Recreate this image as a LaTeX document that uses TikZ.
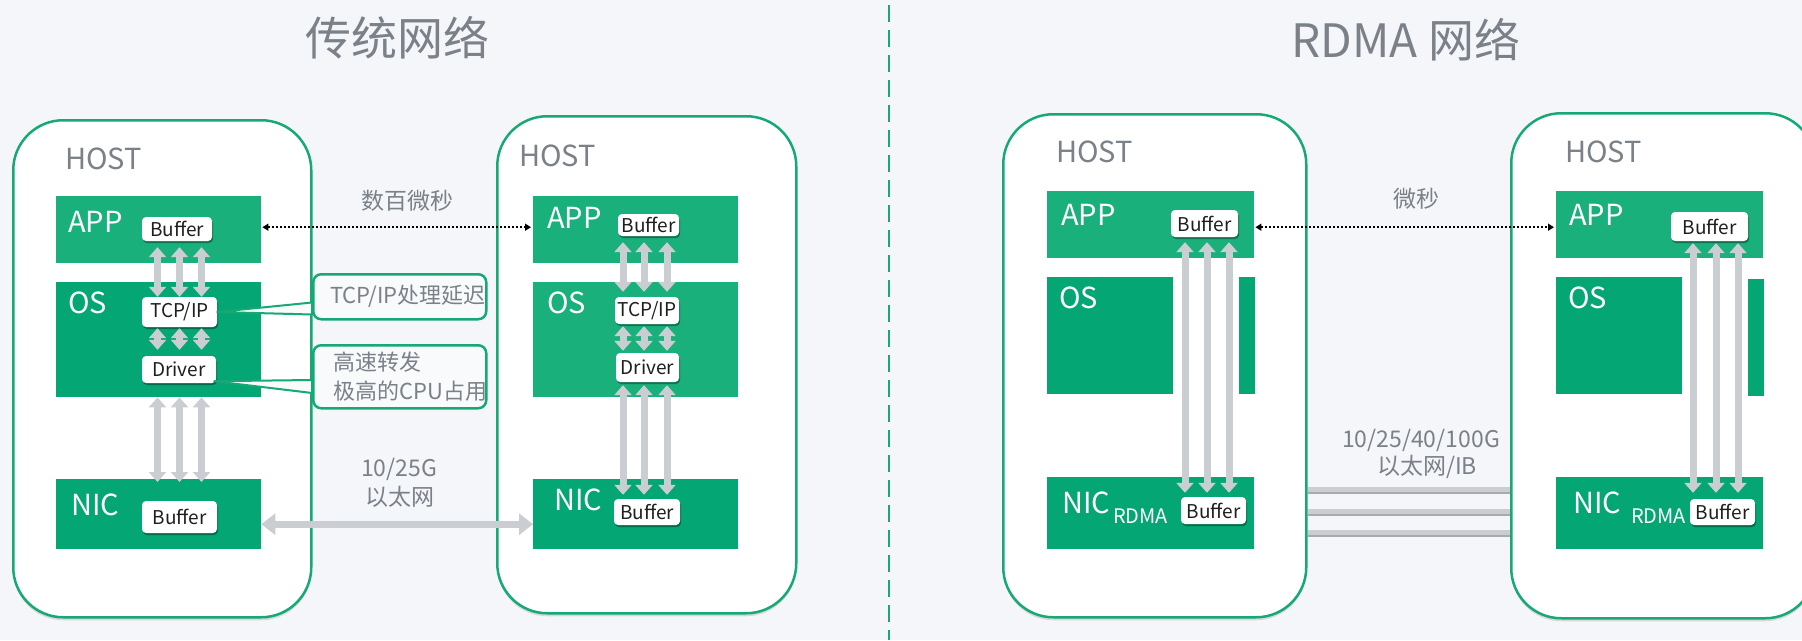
\documentclass[tikz,border=0pt]{standalone}
\usepackage{fontspec}
\setmainfont{Noto Sans CJK SC}
\usetikzlibrary{arrows.meta,calc,shadows}
\definecolor{hostgreen}{HTML}{16A976}
\definecolor{appgreen}{HTML}{1AB07C}
\definecolor{osgreen}{HTML}{04A673}
\definecolor{arrowgray}{HTML}{CACDD1}
\definecolor{bardark}{HTML}{A7ABB0}
\definecolor{textgray}{HTML}{7B8189}
\definecolor{bgcol}{HTML}{F4F6F9}
\definecolor{cofill}{HTML}{F8FAFB}
\begin{document}
\begin{tikzpicture}[x=1pt,y=-1pt,
  hostbox/.style={draw=hostgreen,line width=2.5pt,fill=white,rounded corners=50pt,anchor=north west,inner sep=0pt,
    drop shadow={shadow xshift=0pt,shadow yshift=-3pt,opacity=0.12,fill=black}},
  layerA/.style={fill=appgreen,anchor=north west,inner sep=0pt},
  layerB/.style={fill=osgreen,anchor=north west,inner sep=0pt},
  lbl/.style={text=white,font=\fontsize{29}{30}\selectfont,anchor=base west,inner sep=0pt},
  sublbl/.style={text=white,font=\fontsize{20}{20}\selectfont,anchor=base west,inner sep=0pt},
  hostlbl/.style={text=textgray,font=\fontsize{29}{30}\selectfont,anchor=base west,inner sep=0pt},
  chip/.style={fill=white,rounded corners=4pt,inner sep=0pt,font=\fontsize{19}{20}\selectfont,text=black!88,
    drop shadow={shadow xshift=1pt,shadow yshift=-2pt,opacity=0.35,fill=black}},
  varrow/.style={draw=arrowgray,line width=7pt,{Triangle[width=17pt,length=10pt]}-{Triangle[width=17pt,length=10pt]}},
  harrow/.style={draw=arrowgray,line width=7pt,{Triangle[width=21pt,length=14pt]}-{Triangle[width=21pt,length=14pt]}},
  dotarrow/.style={draw=black,line width=2pt,dash pattern=on 2pt off 2pt,{Triangle[width=7pt,length=6pt]}-{Triangle[width=7pt,length=6pt]}},
  bar/.style={draw=arrowgray,line width=7pt},
  barshade/.style={draw=bardark,line width=1.6pt},
  callout/.style={draw=hostgreen,line width=2.5pt,fill=cofill,rounded corners=8pt,anchor=north west,inner sep=0pt},
  wedge/.style={draw=hostgreen,line width=2pt,fill=cofill,line join=round},
  cotext/.style={text=textgray,font=\fontsize{22}{24}\selectfont,anchor=west,inner sep=0pt},
  midlbl/.style={text=textgray,font=\fontsize{23}{24}\selectfont,inner sep=0pt},
  title/.style={text=textgray,font=\fontsize{46}{48}\selectfont,inner sep=0pt},
  divider/.style={draw=hostgreen,line width=2pt,dash pattern=on 17pt off 8pt}
]
\useasboundingbox (0,0) rectangle (1802,640);
\fill[bgcol] (0,0) rectangle (1802,640);
\clip (0,0) rectangle (1802,640);

% titles and divider
\node[title] (t1) at (397,38) {传统网络};
\node[title] (t2) at (1406,40) {RDMA 网络};
\coordinate (dtop) at (889,5);
\coordinate (dbot) at (889,640);
\draw[divider] (dtop) -- (dbot);

% hosts
\node[hostbox,minimum width=298,minimum height=497] (host1) at (12,119) {};
\node[hostbox,minimum width=299,minimum height=497] (host2) at (496,115) {};
\node[hostbox,minimum width=303,minimum height=503] (host3) at (1002,113) {};
\node[hostbox,minimum width=304,minimum height=505] (host4) at (1510,112) {};

\node[hostlbl] (h1) at (65,169) {HOST};
\node[hostlbl] (h2) at (519,166) {HOST};
\node[hostlbl] (h3) at (1056,162) {HOST};
\node[hostlbl] (h4) at (1565,162) {HOST};

% layers traditional
\node[layerA,minimum width=205,minimum height=67] (app1) at (56,196) {};
\node[layerB,minimum width=205,minimum height=115] (os1) at (56,282) {};
\node[layerB,minimum width=205,minimum height=70] (nic1) at (56,479) {};
\node[layerA,minimum width=205,minimum height=67] (app2) at (533,196) {};
\node[layerA,minimum width=205,minimum height=115] (os2) at (533,282) {};
\node[layerB,minimum width=205,minimum height=70] (nic2) at (533,479) {};
% layers RDMA
\node[layerA,minimum width=207,minimum height=67] (app3) at (1047,191) {};
\node[layerB,minimum width=126,minimum height=117] (os3a) at (1047,277) {};
\node[layerB,minimum width=16,minimum height=117] (os3b) at (1239,277) {};
\node[layerB,minimum width=207,minimum height=72] (nic3) at (1047,477) {};
\node[layerA,minimum width=207,minimum height=67] (app4) at (1556,191) {};
\node[layerB,minimum width=126,minimum height=117] (os4a) at (1556,277) {};
\node[layerB,minimum width=16,minimum height=117] (os4b) at (1748,279) {};
\node[layerB,minimum width=207,minimum height=72] (nic4) at (1556,477) {};

% layer labels
\node[lbl] (la1) at (68,232) {APP};
\node[lbl] (lo1) at (68,313) {OS};
\node[lbl] (ln1) at (71,515) {NIC};
\node[lbl] (la2) at (547,228) {APP};
\node[lbl] (lo2) at (547,313) {OS};
\node[lbl] (ln2) at (554,510) {NIC};
\node[lbl] (la3) at (1061,225) {APP};
\node[lbl] (lo3) at (1059,308) {OS};
\node[lbl] (ln3) at (1062,513) {NIC};
\node[sublbl] (lr3) at (1113,523) {RDMA};
\node[lbl] (la4) at (1569,225) {APP};
\node[lbl] (lo4) at (1568,308) {OS};
\node[lbl] (ln4) at (1573,513) {NIC};
\node[sublbl] (lr4) at (1631,523) {RDMA};

% chips
\node[chip,minimum width=70,minimum height=24] (buf1) at (177,229) {Buffer};
\node[chip,minimum width=75,minimum height=30] (tcp1) at (179.5,312) {TCP/IP};
\node[chip,minimum width=74,minimum height=27] (drv1) at (179,369.5) {Driver};
\node[chip,minimum width=75,minimum height=32] (nbuf1) at (179.5,517) {Buffer};
\node[chip,minimum width=61,minimum height=22] (buf2) at (648.5,225) {Buffer};
\node[chip,minimum width=64,minimum height=27] (tcp2) at (647,310.5) {TCP/IP};
\node[chip,minimum width=63,minimum height=29] (drv2) at (647.5,367.5) {Driver};
\node[chip,minimum width=66,minimum height=26] (nbuf2) at (647,512) {Buffer};
\node[chip,minimum width=67,minimum height=27] (buf3) at (1204.5,223.5) {Buffer};
\node[chip,minimum width=65,minimum height=27] (nbuf3) at (1213.5,510.5) {Buffer};
\node[chip,minimum width=77,minimum height=29] (buf4) at (1709.5,226.5) {Buffer};
\node[chip,minimum width=65,minimum height=26] (nbuf4) at (1722.5,512) {Buffer};

% vertical arrows traditional host 1
\foreach \d in {-22,0,22} {
  \draw[varrow] ($(tcp1.north |- buf1.south)+(\d,6)$) -- ($(tcp1.north)+(\d,0)$);
  \draw[varrow] ($(tcp1.south)+(\d,1)$) -- ($(tcp1.south |- drv1.north)+(\d,-6)$);
  \draw[varrow] ($(tcp1.north |- os1.south)+(\d,0)$) -- ($(tcp1.north |- nic1.north)+(\d,3)$);
}
% host 2
\foreach \d in {-24,-3,20} {
  \draw[varrow] ($(tcp2.north |- buf2.south)+(\d,6)$) -- ($(tcp2.north)+(\d,-5)$);
  \draw[varrow] ($(tcp2.south)+(\d,2)$) -- ($(tcp2.south |- drv2.north)+(\d,-2)$);
  \draw[varrow] ($(tcp2.south |- drv2.south)+(\d,3)$) -- ($(tcp2.south |- nbuf2.north)+(\d,-4)$);
}
% RDMA host 3
\foreach \d in {-19.5,2.5,24.5} {
  \draw[varrow] ($(buf3.south)+(\d,5)$) -- ($(buf3.south |- nbuf3.north)+(\d,-4)$);
}
% RDMA host 4
\foreach \d in {-16.5,6.5,28.5} {
  \draw[varrow] ($(buf4.south)+(\d,2)$) -- ($(buf4.south |- nbuf4.north)+(\d,-6)$);
}

% network links
\draw[harrow] ($(nic1.east)+(0,10)$) -- ($(nic2.west)+(0,10)$);
\foreach \o in {13,35,56} {
  \draw[bar] ($(host3.east |- nic3.north)+(0,\o)$) -- ($(host4.west |- nic3.north)+(0,\o)$);
  \draw[barshade] ($(host3.east |- nic3.north)+(0,\o+3)$) -- ($(host4.west |- nic3.north)+(0,\o+3)$);
}
\draw[dotarrow] ($(app1.east)+(1,-2.5)$) -- ($(app2.west)+(-2,-2.5)$);
\draw[dotarrow] ($(app3.east)+(1,2.5)$) -- ($(app4.west)+(-2,2.5)$);

% middle labels
\node[midlbl] (lat1) at (407,201) {数百微秒};
\node[midlbl] (lat2) at (1416,199) {微秒};
\node[midlbl] (bw1) at (399,469) {10/25G};
\node[midlbl] (eth1) at (400,497) {以太网};
\node[midlbl] (bw2) at (1421,440) {10/25/40/100G};
\node[midlbl] (eth2) at (1427,467) {以太网/IB};

% callouts
\node[callout,minimum width=173,minimum height=45] (c1) at (312,273) {};
\node[callout,minimum width=173,minimum height=63] (c2) at (312,344) {};
\filldraw[wedge] (tcp1.east) -- ($(c1.south west)+(0,-18)$) -- ($(c1.south west)+(0,-6)$) -- cycle;
\filldraw[wedge] ($(drv1.south east)+(-2,-2)$) -- ($(c2.north west)+(0,36)$) -- ($(c2.north west)+(0,49)$) -- cycle;
\node[cotext] (c1t) at (330,296) {TCP/IP处理延迟};
\node[cotext] (c2t1) at (333,362) {高速转发};
\node[cotext] (c2t2) at (333,391) {极高的CPU占用};
\end{tikzpicture}
\end{document}
